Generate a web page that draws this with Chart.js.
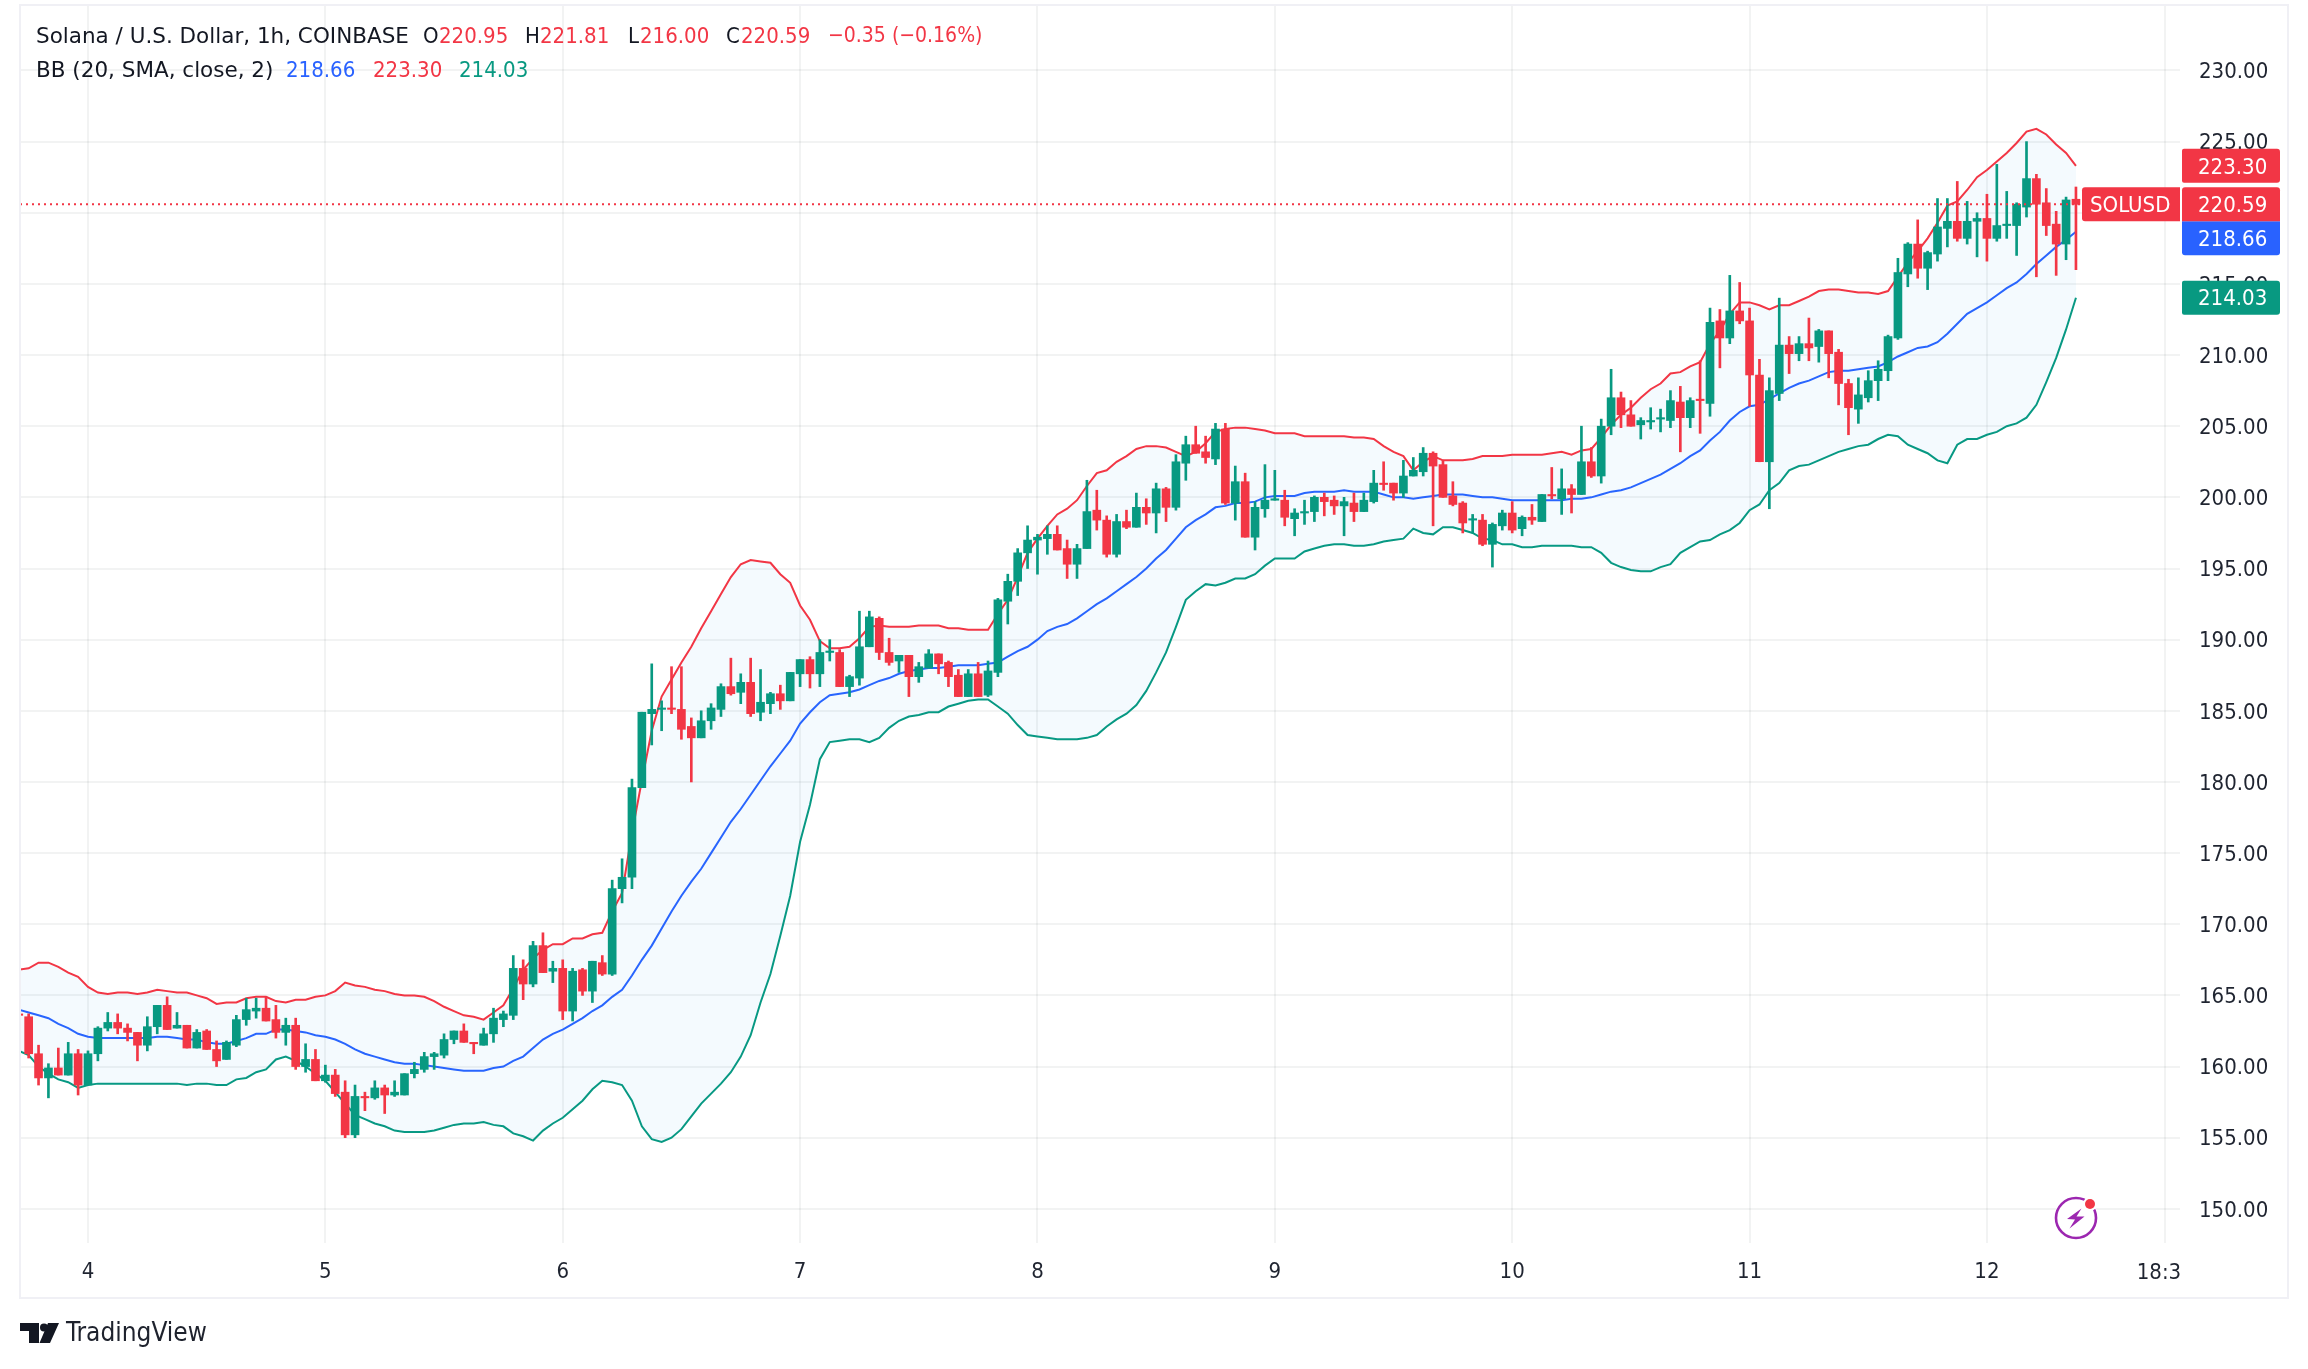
<!DOCTYPE html>
<html>
<head>
<meta charset="utf-8">
<title>SOLUSD 1h with Bollinger Bands</title>
<style>
  html, body { margin: 0; padding: 0; background: #ffffff; }
  canvas { display: block; }
</style>
<script src="https://cdn.jsdelivr.net/npm/chart.js@4/dist/chart.umd.min.js"></script>
</head>
<body>
<canvas id="chart" width="2308" height="1369"></canvas>
<script>
// Hourly SOL/USD candles; the hour count starts at 7 hours before day 4 00:00.
const firstHour = -7;

const opens = [
  163.7,163.5,160.9,159.2,159.9,159.4,160.9,
  158.7,160.9,162.7,163.1,162.7,162.4,161.5,162.8,164.3,162.7,
  162.9,161.3,162.5,161.2,160.5,161.5,163.3,163.9,164.1,163.3,
  162.4,162.9,160.0,160.5,159.0,159.4,158.2,155.2,157.9,157.8,
  158.5,158.0,158.0,159.5,159.8,160.7,160.8,161.9,162.5,161.7,
  161.5,162.3,163.3,163.6,166.9,165.8,168.5,166.7,166.9,163.9,
  166.8,165.3,167.3,166.5,172.5,173.3,179.6,184.8,185.1,185.2,
  185.1,183.9,183.1,184.3,185.1,186.7,186.3,187.0,184.9,185.5,
  186.2,185.7,187.6,188.6,187.6,189.1,189.1,186.7,187.3,189.5,
  191.5,189.1,188.5,188.9,187.4,188.0,189.0,188.4,187.5,186.0,
  187.6,186.1,187.7,192.7,194.1,196.1,197.0,197.1,197.4,196.4,
  195.3,196.4,199.1,198.4,196.0,198.3,197.9,199.3,198.9,200.6,
  199.3,202.4,203.7,203.2,202.7,204.8,199.6,201.1,197.2,199.2,
  199.8,199.8,198.5,198.9,199.0,200.0,199.8,199.4,199.6,199.0,
  199.7,201.0,201.0,200.3,201.5,201.8,203.1,202.3,200.1,199.6,
  198.4,198.4,196.7,198.0,198.9,197.8,198.6,198.3,200.2,199.9,
  200.6,200.2,202.5,201.5,205.0,207.0,205.8,205.1,205.3,205.5,
  205.4,206.7,205.6,206.9,206.6,212.4,211.2,213.1,212.4,208.6,
  202.5,207.3,210.7,210.1,210.8,210.6,211.7,210.2,208.0,206.2,
  207.0,208.2,208.9,211.2,215.7,217.8,216.1,217.1,218.9,219.4,
  218.2,219.4,219.6,218.2,219.1,219.1,220.4,222.4,220.7,219.2,
  217.8,220.95
];

const closes = [
  163.6,160.9,159.2,159.9,159.4,160.9,158.7,
  160.9,162.7,163.1,162.7,162.4,161.5,162.8,164.3,162.6,162.9,
  161.3,162.4,161.2,160.4,161.7,163.3,164.0,164.1,163.2,162.4,
  162.9,160.0,160.5,159.0,159.4,158.1,155.2,157.9,157.8,158.5,
  158.0,158.2,159.5,159.8,160.7,160.9,161.9,162.5,161.7,161.6,
  162.3,163.4,163.7,166.9,165.8,168.5,166.6,166.9,163.9,166.7,
  165.3,167.4,166.5,172.5,173.3,179.6,184.9,185.1,185.2,185.1,
  183.7,183.1,184.3,185.2,186.7,186.2,187.0,184.8,185.6,186.2,
  185.7,187.7,188.6,187.6,189.1,189.2,186.7,187.4,189.5,191.6,
  189.1,188.4,188.9,187.4,188.1,189.0,188.3,187.4,186.0,187.6,
  186.0,187.8,192.8,194.1,196.1,197.0,197.2,197.4,196.3,195.3,
  196.4,199.0,198.4,196.0,198.3,197.9,199.3,198.9,200.6,199.3,
  202.5,203.7,203.1,202.8,204.8,199.6,201.1,197.2,199.3,199.8,
  199.9,198.6,198.9,199.0,200.0,199.7,199.4,199.7,199.0,199.8,
  201.0,200.9,200.3,201.5,201.9,203.1,202.2,200.0,199.5,198.2,
  198.5,196.7,198.1,198.9,197.7,198.6,198.4,200.2,200.1,200.6,
  200.2,202.5,201.5,205.0,207.0,205.8,205.0,205.4,205.4,205.6,
  206.8,205.6,206.8,206.8,212.3,211.2,213.1,212.4,208.6,202.5,
  207.5,210.7,210.1,210.8,210.5,211.7,210.1,208.0,206.3,207.2,
  208.2,209.0,211.3,215.8,217.8,216.1,217.2,219.0,219.4,218.2,
  219.4,219.6,218.2,219.1,219.2,220.6,222.4,220.6,219.1,217.8,
  220.9,220.59
];

const highs = [
  163.7,163.7,161.5,160.2,161.3,161.7,161.2,
  161.1,162.8,163.8,163.7,163.0,162.4,163.5,164.3,164.9,163.8,
  162.9,162.6,162.6,161.8,161.8,163.6,164.8,164.8,164.9,164.3,
  163.4,163.4,161.6,161.2,160.1,159.8,159.0,158.7,158.2,159.0,
  158.7,159.0,159.5,160.3,161.0,161.0,162.3,162.5,163.0,161.7,
  162.7,164.1,163.9,167.8,167.5,168.8,169.4,167.4,167.5,166.9,
  166.9,167.4,167.8,173.1,174.6,180.2,184.9,188.3,185.7,188.1,
  188.1,184.5,185.0,185.5,186.9,188.7,187.6,188.7,187.9,186.3,
  186.8,187.7,188.6,188.8,190.0,190.0,189.3,187.5,192.0,192.0,
  191.6,190.1,188.9,188.9,188.4,189.3,189.0,188.5,187.9,187.9,
  188.4,188.5,192.9,194.6,196.4,198.0,197.4,198.0,198.0,197.0,
  196.7,201.2,200.5,198.7,198.8,199.1,200.3,199.9,201.0,200.7,
  203.0,204.3,205.0,204.3,205.2,205.2,202.2,201.7,199.7,202.3,
  201.9,200.5,199.2,199.8,200.1,200.3,200.1,200.0,200.3,200.3,
  201.9,202.5,201.0,202.6,202.8,203.5,203.2,202.6,201.1,199.7,
  198.8,198.8,198.2,199.1,199.7,198.7,199.5,200.2,202.1,202.0,
  200.9,205.0,203.5,205.5,209.0,207.4,206.8,205.6,206.3,206.2,
  207.5,207.8,207.0,209.6,213.3,213.2,215.6,215.1,213.3,209.7,
  208.4,214.0,211.3,211.3,212.6,211.8,211.7,210.4,208.3,208.4,
  208.9,209.6,211.4,216.8,217.9,219.5,217.3,221.0,221.0,222.2,
  220.8,220.0,221.3,223.4,221.5,220.7,225.0,222.7,221.7,220.1,
  221.1,221.81
];

const lows = [
  163.6,160.6,158.7,157.8,159.4,159.4,158.0,
  158.7,160.4,162.5,162.3,161.8,160.4,161.1,162.3,162.6,162.7,
  161.3,161.3,161.2,160.0,160.5,161.4,162.9,163.4,163.2,162.0,
  161.5,159.8,159.6,159.0,158.9,157.9,155.0,155.0,156.9,157.7,
  156.7,157.9,158.0,159.2,159.6,159.8,160.6,161.6,161.7,160.9,
  161.5,161.7,162.8,163.3,164.7,165.6,166.6,165.9,163.3,163.2,
  165.0,164.5,166.4,166.4,171.5,172.5,179.6,182.6,183.6,184.8,
  183.0,180.0,183.1,183.7,184.6,186.1,185.5,184.6,184.3,184.8,
  185.1,185.7,186.7,186.6,186.7,188.5,186.7,186.0,186.8,189.5,
  188.6,188.2,187.7,186.0,187.0,188.0,187.6,186.7,186.0,186.0,
  186.0,186.0,187.4,191.1,193.1,195.0,194.6,196.0,196.3,194.3,
  194.3,196.4,197.7,195.8,195.8,197.8,197.9,198.1,197.5,198.3,
  199.1,201.2,203.1,202.4,202.3,199.5,198.4,197.2,196.3,198.6,
  199.8,198.0,197.3,198.1,198.3,198.7,198.8,197.3,198.3,199.0,
  199.6,200.5,199.8,200.0,201.5,201.5,198.0,200.0,199.4,197.5,
  197.5,196.6,195.1,197.7,197.5,197.3,198.1,198.3,199.9,198.8,
  198.9,200.2,201.4,201.0,204.4,204.9,205.0,204.1,204.8,204.6,
  204.9,203.2,204.9,204.5,205.7,209.1,210.8,212.2,206.4,202.5,
  199.2,206.8,208.7,209.6,209.6,209.5,208.4,206.5,204.4,205.2,
  206.7,206.8,208.2,211.1,214.8,215.4,214.6,216.6,217.6,218.0,
  217.8,216.9,216.6,218.0,218.2,217.0,219.7,215.5,218.4,215.6,
  216.7,216.00
];

// Bollinger Bands (20, SMA, close, 2)
const upperBand = [
  166.8,166.9,167.3,167.3,167.0,166.6,166.3,
  165.6,165.2,165.1,165.2,165.2,165.1,165.2,165.4,165.3,165.2,
  165.2,165.0,164.8,164.4,164.5,164.5,164.8,164.9,164.9,164.6,
  164.5,164.7,164.7,164.9,165.0,165.3,165.9,165.7,165.6,165.4,
  165.3,165.1,165.0,165.0,164.9,164.6,164.2,163.9,163.6,163.5,
  163.3,163.8,164.3,165.5,166.8,167.6,168.2,168.6,168.6,169.0,
  169.0,169.3,169.4,170.9,172.2,176.4,180.1,183.6,186.0,187.2,
  188.4,189.5,190.8,192.0,193.2,194.4,195.3,195.6,195.5,195.4,
  194.6,194.0,192.4,191.4,189.9,189.4,189.4,189.5,190.1,190.9,
  191.0,190.9,190.9,190.9,191.0,191.0,191.0,190.8,190.8,190.7,
  190.7,190.7,191.8,192.8,194.4,196.1,197.1,198.0,198.8,199.2,
  199.8,200.8,201.7,201.9,202.5,202.9,203.4,203.6,203.6,203.5,
  203.2,202.9,203.2,203.8,204.6,204.8,204.9,204.9,204.8,204.7,
  204.5,204.5,204.5,204.3,204.3,204.3,204.3,204.3,204.2,204.2,
  204.1,203.6,203.2,202.9,201.9,202.5,202.9,202.6,202.6,202.6,
  202.7,202.9,202.9,202.9,203.0,203.0,203.0,203.0,203.1,203.2,
  203.0,203.3,203.4,204.2,205.1,205.8,206.3,207.0,207.6,208.0,
  208.7,208.8,209.2,209.5,210.8,211.7,212.9,213.7,213.7,213.5,
  213.2,213.5,213.5,213.8,214.1,214.5,214.6,214.6,214.5,214.4,
  214.4,214.3,214.5,215.5,216.5,217.3,218.2,219.3,220.5,220.8,
  221.6,222.5,223.0,223.6,224.2,224.9,225.7,225.9,225.5,224.8,
  224.2,223.30
];

const basisBand = [
  164.0,163.8,163.6,163.4,163.0,162.7,162.3,
  162.1,162.0,162.0,162.0,162.0,162.0,162.0,162.1,162.1,162.0,
  161.9,161.9,161.7,161.6,161.6,161.8,162.0,162.3,162.3,162.6,
  162.6,162.5,162.4,162.2,162.1,161.9,161.6,161.2,160.9,160.7,
  160.5,160.3,160.2,160.2,160.1,160.0,159.9,159.8,159.7,159.7,
  159.7,159.9,160.0,160.4,160.7,161.3,161.9,162.3,162.6,163.0,
  163.4,163.9,164.3,164.9,165.4,166.4,167.5,168.5,169.7,170.9,
  172.0,173.0,173.9,175.0,176.1,177.2,178.1,179.1,180.1,181.1,
  182.0,182.9,184.1,184.9,185.6,186.1,186.2,186.3,186.5,186.8,
  187.1,187.3,187.6,187.8,187.9,188.0,188.0,188.1,188.2,188.2,
  188.2,188.3,188.4,188.8,189.2,189.5,190.0,190.6,190.9,191.1,
  191.5,192.0,192.5,192.9,193.4,193.9,194.4,195.0,195.7,196.3,
  197.1,197.9,198.4,198.8,199.3,199.4,199.6,199.6,199.7,200.0,
  200.1,200.1,200.1,200.3,200.4,200.4,200.4,200.5,200.4,200.4,
  200.4,200.2,200.0,200.0,199.9,200.0,200.1,200.2,200.2,200.2,
  200.1,200.0,200.0,199.9,199.8,199.8,199.8,199.8,199.8,199.8,
  199.9,199.9,200.0,200.2,200.4,200.5,200.7,201.0,201.3,201.6,
  202.0,202.4,202.9,203.3,204.0,204.6,205.4,206.0,206.4,206.5,
  206.9,207.3,207.7,208.0,208.2,208.5,208.8,208.9,208.9,209.0,
  209.1,209.2,209.5,209.9,210.2,210.5,210.6,210.9,211.5,212.2,
  212.9,213.3,213.7,214.2,214.7,215.1,215.7,216.4,217.0,217.6,
  218.1,218.66
];

const lowerBand = [
  161.1,160.8,160.0,159.5,159.1,158.9,158.5,
  158.7,158.8,158.8,158.8,158.8,158.8,158.8,158.8,158.8,158.8,
  158.7,158.8,158.8,158.7,158.7,159.1,159.2,159.6,159.8,160.5,
  160.7,160.4,160.0,159.5,159.0,158.2,157.4,156.6,156.3,156.0,
  155.8,155.5,155.4,155.4,155.4,155.5,155.7,155.9,156.0,156.0,
  156.1,155.9,155.8,155.3,155.1,154.8,155.5,156.0,156.4,157.0,
  157.6,158.4,159.0,158.9,158.7,157.6,155.8,154.9,154.7,155.0,
  155.6,156.5,157.4,158.1,158.8,159.6,160.7,162.2,164.5,166.5,
  169.2,172.0,175.8,178.4,181.6,182.8,182.9,183.0,183.0,182.8,
  183.1,183.8,184.3,184.6,184.7,184.9,184.9,185.3,185.5,185.7,
  185.8,185.8,185.3,184.8,184.0,183.3,183.2,183.1,183.0,183.0,
  183.0,183.1,183.3,183.9,184.4,184.8,185.4,186.4,187.7,189.1,
  190.9,192.8,193.4,193.9,193.8,194.0,194.3,194.3,194.6,195.2,
  195.7,195.7,195.7,196.2,196.4,196.6,196.7,196.7,196.6,196.6,
  196.7,196.9,197.0,197.1,197.8,197.5,197.4,197.9,197.9,197.7,
  197.5,197.1,197.0,196.7,196.7,196.5,196.5,196.6,196.6,196.6,
  196.6,196.5,196.5,196.1,195.4,195.1,194.9,194.8,194.8,195.1,
  195.3,196.1,196.5,196.9,197.0,197.4,197.7,198.2,199.1,199.5,
  200.5,201.0,201.9,202.2,202.3,202.6,202.9,203.2,203.4,203.6,
  203.7,204.1,204.4,204.3,203.7,203.4,203.1,202.6,202.4,203.7,
  204.1,204.1,204.4,204.6,205.0,205.2,205.6,206.5,208.1,209.8,
  211.8,214.03
];

// Time axis: hour offsets and their labels (the last label is cut by the pane edge).
const timeTickHours = [0, 24, 48, 72, 96, 120, 144, 168, 192, 210];
const timeTickLabels = ['4', '5', '6', '7', '8', '9', '10', '11', '12', '18:3'];
const boldTimeLabels = ['4', '11'];
const priceTicks = { min: 147.6, max: 234.6, step: 5 };
const hourRange = { min: -6.875, max: 211.52 };

const lastClose = 220.59;
const bandNow = { basis: 218.66, upper: 223.30, lower: 214.03 };

const RED = '#f23645', GREEN = '#089981', BLUE = '#2962ff', INK = '#131722', AXIS_INK = '#1f2430';
const FONT = '"DejaVu Sans Condensed", "DejaVu Sans", sans-serif';
const WORD_FONT = '"DejaVu Sans", sans-serif';
const GRID = 'rgba(42,46,57,0.06)';

const hours = opens.map((_, i) => firstHour + i);
const candleColors = opens.map((o, i) => closes[i] >= o ? GREEN : RED);
const wickData = hours.map((h, i) => ({ x: h, y: [lows[i], highs[i]] }));
const bodyData = hours.map((h, i) => ({ x: h, y: [Math.min(opens[i], closes[i]), Math.max(opens[i], closes[i])] }));
const line = arr => hours.map((h, i) => ({ x: h, y: arr[i] }));

// Header rows, frame, price tags, time label and logo are painted around the plot.
const decorations = {
  id: 'decorations',
  afterDraw(chart) {
    const { ctx, scales } = chart;
    const yPx = v => scales.y.getPixelForValue(v);

    ctx.save();
    ctx.lineWidth = 2;
    ctx.strokeStyle = '#f0f0f5';
    ctx.strokeRect(20, 5, 2268, 1293);

    const label = (text, x, y, color, size = 22, family = FONT) => {
      ctx.font = `400 ${size}px ${family}`;
      ctx.fillStyle = color;
      ctx.textAlign = 'left';
      ctx.textBaseline = 'middle';
      ctx.fillText(text, x, y);
    };

    label('Solana / U.S. Dollar, 1h, COINBASE', 36, 37, INK, 21.5, WORD_FONT);
    label('O', 423, 37, INK);
    label('220.95', 439, 37, RED);
    label('H', 525, 37, INK);
    label('221.81', 540, 37, RED);
    label('L', 628, 37, INK);
    label('216.00', 640, 37, RED);
    label('C', 726, 37, INK);
    label('220.59', 741, 37, RED);
    label('\u22120.35 (\u22120.16%)', 828, 37, RED, 21);
    label('BB (20, SMA, close, 2)', 36, 71, INK, 21.5, WORD_FONT);
    label(bandNow.basis.toFixed(2), 286, 71, BLUE);
    label(bandNow.upper.toFixed(2), 373, 71, RED);
    label(bandNow.lower.toFixed(2), 459, 71, GREEN);

    const tag = (text, left, right, cy, color, radii) => {
      ctx.fillStyle = color;
      ctx.beginPath();
      ctx.roundRect(left, cy - 17, right - left, 34, radii);
      ctx.fill();
      ctx.font = `400 22px ${FONT}`;
      ctx.fillStyle = '#ffffff';
      ctx.textAlign = 'left';
      ctx.textBaseline = 'middle';
      ctx.fillText(text, left + 16, cy + 2);
    };
    const closeY = yPx(lastClose);
    tag(bandNow.upper.toFixed(2), 2182, 2280, yPx(bandNow.upper), RED, [2, 3, 3, 2]);
    tag(bandNow.lower.toFixed(2), 2182, 2280, yPx(bandNow.lower), GREEN, [2, 3, 3, 2]);
    tag(bandNow.basis.toFixed(2), 2182, 2280, closeY + 34, BLUE, [0, 0, 3, 3]);
    tag(lastClose.toFixed(2), 2182, 2280, closeY, RED, [3, 3, 0, 0]);
    ctx.fillStyle = RED;
    ctx.beginPath();
    ctx.roundRect(2082, closeY - 17, 98, 34, [3, 0, 0, 3]);
    ctx.fill();
    label('SOLUSD', 2090, closeY + 2, '#ffffff');

    // "18:3" sits a little left of its grid line because the full label is cut off.
    const lastIdx = timeTickHours.length - 1;
    ctx.font = `400 22px ${FONT}`;
    ctx.fillStyle = AXIS_INK;
    ctx.textAlign = 'center';
    ctx.textBaseline = 'middle';
    ctx.fillText(timeTickLabels[lastIdx], scales.x.getPixelForValue(timeTickHours[lastIdx]) - 6, 1273);

    // Lightning badge
    ctx.fillStyle = '#ffffff';
    ctx.beginPath(); ctx.arc(2076, 1218, 22, 0, Math.PI * 2); ctx.fill();
    ctx.strokeStyle = '#9c27b0';
    ctx.lineWidth = 2.6;
    ctx.beginPath(); ctx.arc(2076, 1218, 20, 0, Math.PI * 2); ctx.stroke();
    ctx.fillStyle = '#9c27b0';
    ctx.beginPath();
    ctx.moveTo(2081.5, 1208.5); ctx.lineTo(2067, 1219); ctx.lineTo(2075, 1219.5);
    ctx.lineTo(2069.5, 1228.5); ctx.lineTo(2084.5, 1216.5); ctx.lineTo(2076.5, 1216.5);
    ctx.closePath(); ctx.fill();
    ctx.fillStyle = '#ffffff';
    ctx.beginPath(); ctx.arc(2090, 1204, 7, 0, Math.PI * 2); ctx.fill();
    ctx.fillStyle = RED;
    ctx.beginPath(); ctx.arc(2090, 1204, 5, 0, Math.PI * 2); ctx.fill();

    // Wordmark
    ctx.fillStyle = INK;
    ctx.beginPath();
    ctx.moveTo(20, 1323); ctx.lineTo(39, 1323); ctx.lineTo(39, 1343); ctx.lineTo(29, 1343);
    ctx.lineTo(29, 1331); ctx.lineTo(20, 1331); ctx.closePath();
    ctx.moveTo(48, 1323); ctx.lineTo(59, 1323); ctx.lineTo(50, 1343); ctx.lineTo(39.5, 1343);
    ctx.closePath();
    ctx.fill();
    ctx.beginPath(); ctx.arc(44, 1327.5, 4, 0, Math.PI * 2); ctx.fill();
    label('TradingView', 66, 1334, '#1e222d', 26);
    ctx.restore();
  }
};

new Chart(document.getElementById('chart'), {
  type: 'bar',
  data: {
    datasets: [
      { type: 'line', label: 'Last price', order: 0, data: [{ x: hourRange.min, y: lastClose }, { x: hourRange.max, y: lastClose }],
        borderColor: RED, borderWidth: 2, borderDash: [2, 4], pointRadius: 0, fill: false },
      { type: 'bar', label: 'Body', order: 1, data: bodyData, backgroundColor: candleColors, grouped: false,
        barPercentage: 1, categoryPercentage: 1, maxBarThickness: 8, borderWidth: 0 },
      { type: 'bar', label: 'Wick', order: 2, data: wickData, backgroundColor: candleColors, grouped: false,
        barPercentage: 1, categoryPercentage: 1, maxBarThickness: 2, borderWidth: 0 },
      { type: 'line', label: 'Upper', order: 3, data: line(upperBand), borderColor: RED, borderWidth: 2, pointRadius: 0, tension: 0,
        fill: { target: 5 }, backgroundColor: 'rgba(33,150,243,0.05)' },
      { type: 'line', label: 'Basis', order: 4, data: line(basisBand), borderColor: BLUE, borderWidth: 2, pointRadius: 0, tension: 0, fill: false },
      { type: 'line', label: 'Lower', order: 5, data: line(lowerBand), borderColor: GREEN, borderWidth: 2, pointRadius: 0, tension: 0, fill: false }
    ]
  },
  options: {
    responsive: false,
    animation: false,
    parsing: true,
    layout: { autoPadding: false, padding: { left: 20, top: 5, right: 20, bottom: 71 } },
    plugins: { legend: { display: false }, tooltip: { enabled: false }, title: { display: false } },
    scales: {
      x: {
        type: 'linear',
        min: hourRange.min,
        max: hourRange.max,
        offset: false,
        grid: { offset: false, color: GRID, lineWidth: 2, drawTicks: false },
        border: { display: false },
        afterFit: s => { s.height = 55; s.paddingTop = 0; s.paddingBottom = 0; s.paddingLeft = 0; s.paddingRight = 0; },
        afterBuildTicks: s => { s.ticks = timeTickHours.map(value => ({ value })); },
        ticks: {
          autoSkip: false,
          maxRotation: 0,
          padding: 16,
          color: AXIS_INK,
          font: ctx => ({ family: FONT, size: 22, weight: boldTimeLabels.includes(timeTickLabels[ctx.index]) ? '500' : '400' }),
          callback: (v, i) => i === timeTickHours.length - 1 ? '' : timeTickLabels[i]
        }
      },
      y: {
        type: 'linear',
        position: 'right',
        min: priceTicks.min,
        max: priceTicks.max,
        beginAtZero: false,
        grid: { color: GRID, lineWidth: 2, drawTicks: false },
        border: { display: false },
        afterFit: s => { s.width = 108; s.paddingTop = 0; s.paddingBottom = 0; s.paddingLeft = 0; s.paddingRight = 0; },
        ticks: {
          stepSize: priceTicks.step,
          includeBounds: false,
          crossAlign: 'near',
          padding: 19,
          labelOffset: 2,
          color: AXIS_INK,
          font: { family: FONT, size: 22 },
          callback: v => v.toFixed(2)
        }
      }
    }
  },
  plugins: [decorations]
});
</script>
</body>
</html>
